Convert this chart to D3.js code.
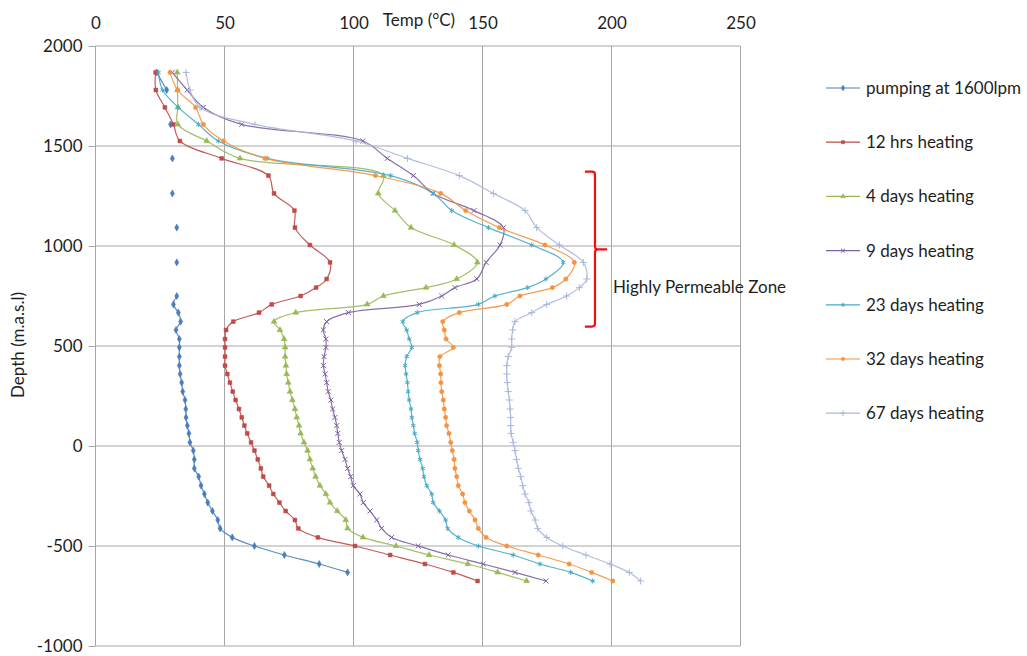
<!doctype html>
<html>
<head>
<style>
  body { margin: 0; background: #fff; }
  svg text { font-family: Lato, "Open Sans", sans-serif; fill: #1e1e1e; }
  .grid line { stroke: #a6a6a6; stroke-width: 1; }
  .axis path { display: none; }
  .axis line { stroke: #a6a6a6; }
</style>
<script src="https://d3js.org/d3.v7.min.js"></script>
</head>
<body>
<svg width="1027" height="656"></svg>
<script>
// depth points (m.a.s.l), shared by all surveys
var depths = [1868, 1780, 1693, 1608, 1525, 1438, 1352, 1263, 1177, 1092, 1005, 918, 835, 792, 750, 708,
  667, 622, 580, 535, 493, 447, 402, 360, 317, 272, 230, 185, 143, 102, 63, 18, -23, -67, -112, -153,
  -198, -240, -283, -325, -370, -412, -457, -500, -545, -590, -632, -675];

// temperatures (°C) per survey, null = no reading
var pumping = [23.7, 27.6, null, 29.1, null, 29.8, null, 29.8, null, 31.5, null, 31.5, null, null, 31.5, 30.2,
  32.1, 33.0, 31.2, 32.5, 32.5, 32.5, 32.5, 32.8, 33.4, 33.8, 34.7, 35.0, 35.1, 35.6, 36.2, 36.6, 37.9, 38.3, 38.3, 40.0,
  40.9, 42.2, 43.5, 45.3, 47.4, 48.3, 53.0, 61.6, 73.2, 86.7, 97.7, null];
var hrs12 = [23.3, 23.4, 26.9, 30.2, 32.7, 48.9, 67.0, 69.2, 77.1, 77.3, 83.1, 90.9, 89.6, 85.5, 79.5, 68.3,
  63.4, 53.4, 50.6, 50.2, 50.2, 50.2, 50.2, 51.1, 52.1, 53.2, 54.3, 55.6, 56.7, 57.7, 58.8, 60.3, 61.6, 62.9, 64.1, 65.0,
  67.3, 68.9, 71.3, 73.7, 77.3, 78.6, 86.2, 100.6, 114.2, 127.7, 138.7, 148.1];
var days4 = [31.7, 31.8, 31.9, 31.9, 43.1, 56.0, 111.6, 109.6, 116.1, 122.3, 139.0, 148.0, 140.0, 128.1, 111.6, 105.3,
  77.6, 69.2, 71.5, 73.1, 73.5, 73.5, 73.8, 74.1, 74.7, 75.4, 76.3, 77.3, 78.0, 78.9, 79.5, 80.8, 82.2, 83.1, 84.2, 85.3,
  87.0, 89.3, 90.9, 93.7, 97.0, 97.7, 103.7, 116.5, 129.3, 144.3, 155.9, 167.1];
var days9 = [29.8, 35.5, 41.8, 56.7, 103.6, 113.1, 123.2, 130.9, 146.7, 158.1, 156.8, 151.4, 147.8, 139.3, 134.2, 125.5,
  98.0, 89.6, 88.3, 89.3, 89.3, 88.6, 88.3, 89.0, 89.6, 90.2, 91.2, 91.9, 92.8, 93.5, 93.9, 94.5, 95.4, 96.7, 97.7, 98.9,
  99.9, 102.5, 103.8, 106.4, 109.0, 110.9, 114.8, 125.1, 136.7, 150.3, 162.6, 174.6];
var days23 = [24.4, 26.0, 32.1, 39.9, 47.6, 66.6, 114.4, 130.9, 138.1, 152.3, 169.1, 181.3, 174.6, 167.5, 154.8, 148.4,
  124.7, 119.1, 120.6, 121.6, 122.6, 120.6, 120.0, 120.4, 120.9, 121.2, 121.6, 122.3, 122.6, 123.2, 123.7, 124.7, 125.1, 125.8, 126.8, 127.3,
  128.4, 130.3, 130.9, 133.3, 135.7, 136.5, 140.6, 148.4, 161.9, 172.3, 184.2, 192.7];
var days32 = [28.9, 31.8, 38.8, 41.8, 49.6, 65.7, 108.5, 133.8, 143.5, 156.5, 174.2, 185.6, 182.3, 177.1, 164.5, 159.4,
  141.0, 134.6, 135.2, 135.9, 138.7, 133.5, 133.3, 133.8, 133.9, 134.2, 134.8, 135.2, 135.7, 136.1, 137.0, 137.7, 138.3, 139.0, 139.3, 140.0,
  140.6, 142.3, 143.2, 144.9, 147.1, 148.4, 151.4, 159.4, 171.6, 183.6, 192.3, 200.5];
var days67 = [35.1, 36.6, 40.5, 61.8, 101.0, 120.9, 141.0, 154.2, 166.5, 171.0, 179.8, 189.1, 190.4, 187.5, 182.6, 174.9,
  169.1, 162.6, 161.7, 161.3, 161.3, 160.0, 159.4, 159.4, 159.6, 160.0, 160.4, 160.7, 160.9, 160.9, 161.1, 161.9, 162.6, 163.2, 163.9, 164.8,
  165.6, 166.5, 168.0, 168.8, 170.4, 171.4, 174.9, 181.1, 190.1, 199.4, 206.9, 211.3];

var seriesNames = ["pumping at 1600lpm", "12 hrs heating", "4 days heating", "9 days heating",
  "23 days heating", "32 days heating", "67 days heating"];
var seriesValues = [pumping, hrs12, days4, days9, days23, days32, days67];
var colors = ["#4a7ebb", "#be4b48", "#98b954", "#7d60a0", "#46aac5", "#f69240", "#a9b8da"];
var symbols = [d3.symbolDiamond, d3.symbolSquare, d3.symbolTriangle, d3.symbolX,
  d3.symbolAsterisk, d3.symbolCircle, d3.symbolPlus];
var filled = [true, true, true, false, false, true, false];

var xTicks = [0, 50, 100, 150, 200, 250];
var yTicks = [2000, 1500, 1000, 500, 0, -500, -1000];

// highly permeable zone bracket (depth range, temp position)
var zoneTop = 1372, zoneMid = 983, zoneBottom = 597;
var zoneX = [189.7, 193.6, 198.3];

var svg = d3.select("svg");
var plotLeft = 95.5, plotRight = 740.5, plotTop = 46, plotBottom = 646;

var x = d3.scaleLinear().domain([0, 250]).range([plotLeft, plotRight]);
var y = d3.scaleLinear().domain([-1000, 2000]).range([plotBottom, plotTop]);

// grid
var grid = svg.append("g").attr("class", "grid");
grid.selectAll(".v").data(xTicks).enter().append("line")
  .attr("x1", d => x(d)).attr("x2", d => x(d)).attr("y1", plotTop).attr("y2", plotBottom);
grid.selectAll(".h").data(yTicks).enter().append("line")
  .attr("x1", plotLeft).attr("x2", plotRight).attr("y1", d => y(d)).attr("y2", d => y(d));

// axes
svg.append("g").attr("class", "axis")
  .attr("transform", "translate(" + plotLeft + ",0)")
  .call(d3.axisLeft(y).tickValues(yTicks).tickSize(7).tickPadding(6).tickFormat(d => String(d)))
  .selectAll("text").style("font-size", "17px");

svg.append("g").attr("class", "axis")
  .attr("transform", "translate(0," + plotTop + ")")
  .call(d3.axisTop(x).tickValues(xTicks).tickSize(0).tickPadding(17))
  .selectAll("text").style("font-size", "17px");

svg.append("text")
  .attr("x", 419).attr("y", 26)
  .attr("text-anchor", "middle")
  .style("font-size", "17px")
  .text("Temp (°C)");

svg.append("text")
  .attr("transform", "translate(24,345) rotate(-90)")
  .attr("text-anchor", "middle")
  .style("font-size", "17px")
  .text("Depth (m.a.s.l)");

// lines + markers
var line = d3.line()
  .defined(d => d.t != null)
  .x(d => x(d.t)).y(d => y(d.d))
  .curve(d3.curveCatmullRom.alpha(0.5));

seriesValues.forEach(function(vals, i) {
  var pts = depths.map((d, j) => ({ d: d, t: vals[j] }));
  var g = svg.append("g");
  g.append("path").datum(pts)
    .attr("d", line)
    .attr("fill", "none")
    .attr("stroke", colors[i])
    .attr("stroke-width", 1.2)
    .attr("stroke-opacity", 0.9);
  g.selectAll("path.m").data(pts.filter(p => p.t != null)).enter().append("path")
    .attr("class", "m")
    .attr("transform", p => "translate(" + x(p.t) + "," + y(p.d) + ")")
    .attr("d", d3.symbol().type(symbols[i]).size(filled[i] ? 15 : 18))
    .attr("fill", filled[i] ? colors[i] : "none")
    .attr("stroke", colors[i])
    .attr("stroke-width", filled[i] ? 0.5 : 1);
});

// bracket
var bx0 = x(zoneX[0]), bx1 = x(zoneX[1]), bx2 = x(zoneX[2]);
var bt = y(zoneTop), bm = y(zoneMid), bb = y(zoneBottom);
svg.append("path")
  .attr("d", "M" + bx0 + "," + bt + " L" + (bx1 - 3) + "," + bt + " Q" + bx1 + "," + bt + " " + bx1 + "," + (bt + 3) +
    " L" + bx1 + "," + (bm - 3) + " Q" + bx1 + "," + bm + " " + (bx1 + 3) + "," + bm + " L" + bx2 + "," + bm +
    " M" + (bx1 + 3) + "," + bm + " Q" + bx1 + "," + bm + " " + bx1 + "," + (bm + 3) +
    " L" + bx1 + "," + (bb - 3) + " Q" + bx1 + "," + bb + " " + (bx1 - 3) + "," + bb + " L" + bx0 + "," + bb)
  .attr("fill", "none")
  .attr("stroke", "#f01010")
  .attr("stroke-width", 2.2);

svg.append("text")
  .attr("x", 613).attr("y", 293)
  .style("font-size", "17px")
  .text("Highly Permeable Zone");

// legend
var legend = svg.append("g").attr("transform", "translate(826,88)");
seriesNames.forEach(function(name, i) {
  var row = legend.append("g").attr("transform", "translate(0," + (i * 54.2) + ")");
  row.append("line").attr("x1", 0).attr("x2", 34).attr("y1", 0).attr("y2", 0)
    .attr("stroke", colors[i]).attr("stroke-width", 1.2);
  row.append("path").attr("transform", "translate(17,0)")
    .attr("d", d3.symbol().type(symbols[i]).size(filled[i] ? 10 : 12))
    .attr("fill", filled[i] ? colors[i] : "none")
    .attr("stroke", colors[i]).attr("stroke-width", filled[i] ? 0.5 : 1);
  row.append("text").attr("x", 40).attr("y", 0).attr("dy", "0.35em")
    .style("font-size", "17px")
    .text(name);
});
</script>
</body>
</html>
